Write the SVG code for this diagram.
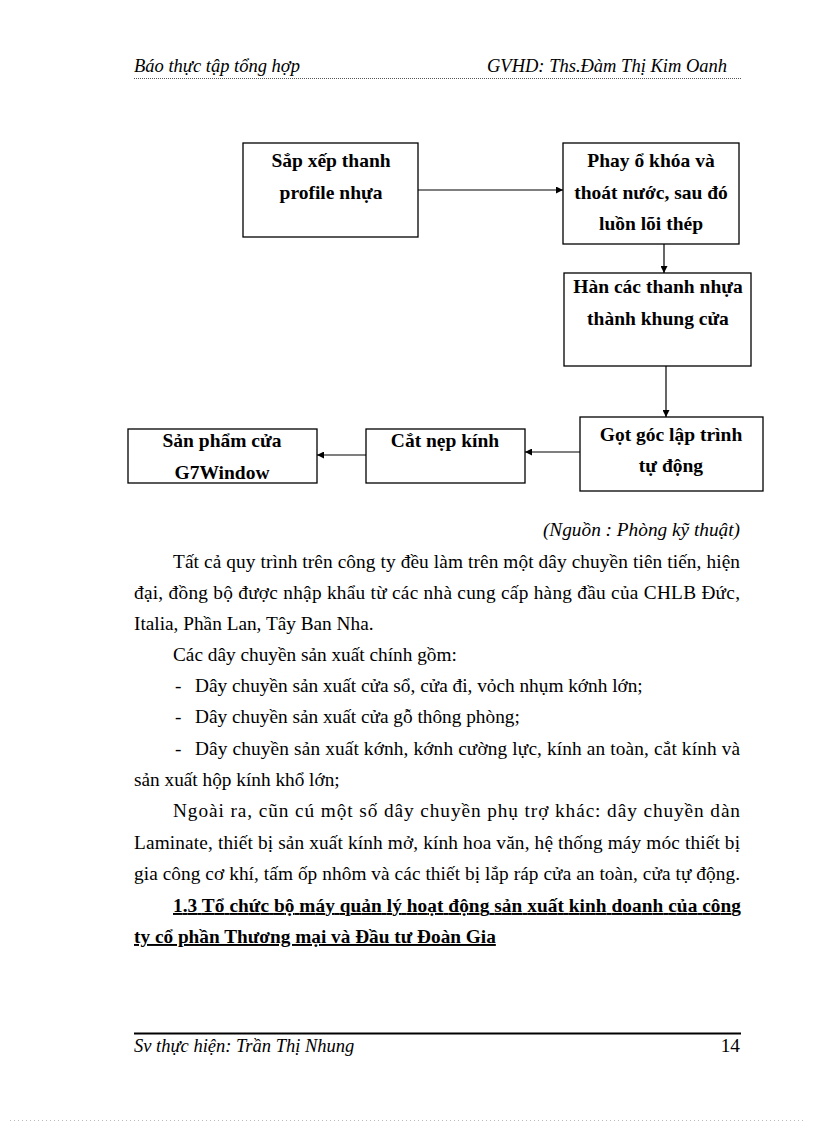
<svg xmlns="http://www.w3.org/2000/svg" width="816" height="1123" viewBox="0 0 816 1123">
<defs>
<style>
.box{fill:#fff;stroke:#000;stroke-width:1.3}
.bt{font-family:"Liberation Serif","Times New Roman",serif;font-weight:bold;font-size:19.5px;fill:#000;text-anchor:middle}
.body{font-family:"Liberation Serif","Times New Roman",serif;font-size:19.3px;fill:#000}
.hd{font-family:"Liberation Serif","Times New Roman",serif;font-style:italic;font-size:18.5px;fill:#000}
.conn{stroke:#000;stroke-width:1.2;fill:none;marker-end:url(#ah)}
</style>
<marker id="ah" viewBox="0 0 10 10" refX="10" refY="5" markerWidth="7" markerHeight="7" markerUnits="userSpaceOnUse" orient="auto">
<path d="M0,0 L10,5 L0,10 z" fill="#000"/>
</marker>
</defs>
<rect width="816" height="1123" fill="#fff"/>
<!-- header -->
<text class="hd" x="134" y="72">Báo thực tập tổng hợp</text>
<text class="hd" x="727" y="72" text-anchor="end">GVHD: Ths.Đàm Thị Kim Oanh</text>
<line x1="134" y1="78.5" x2="741" y2="78.5" stroke="#555" stroke-width="1" stroke-dasharray="1,1"/>

<!-- nodes -->
<g id="n1"><rect class="box" x="243" y="143" width="175" height="94"/>
<text class="bt" x="331" y="167">Sắp xếp thanh</text><text class="bt" x="331" y="199">profile nhựa</text></g>
<g id="n2"><rect class="box" x="563" y="143" width="176" height="101"/>
<text class="bt" x="651" y="167">Phay ổ khóa và</text><text class="bt" x="651" y="199">thoát nước, sau đó</text><text class="bt" x="651" y="230">luồn lõi thép</text></g>
<g id="n3"><rect class="box" x="564" y="273" width="187" height="93"/>
<text class="bt" x="658" y="293">Hàn các thanh nhựa</text><text class="bt" x="658" y="325">thành khung cửa</text></g>
<g id="n4"><rect class="box" x="580" y="417" width="183" height="74"/>
<text class="bt" x="671" y="441">Gọt góc lập trình</text><text class="bt" x="671" y="472">tự động</text></g>
<g id="n5"><rect class="box" x="366" y="429" width="159" height="54"/>
<text class="bt" x="445" y="447">Cắt nẹp kính</text></g>
<g id="n6"><rect class="box" x="128" y="429" width="189" height="54"/>
<text class="bt" x="222" y="447">Sản phẩm cửa</text><text class="bt" x="222" y="479">G7Window</text></g>

<!-- connectors -->
<g id="connectors">
<line class="conn" x1="418" y1="190" x2="563" y2="190"/>
<line class="conn" x1="664" y1="244" x2="664" y2="273"/>
<line class="conn" x1="666" y1="366" x2="666" y2="417"/>
<line class="conn" x1="580" y1="452" x2="525" y2="452"/>
<line class="conn" x1="366" y1="455" x2="317" y2="455"/>
</g>

<!-- body text -->
<text class="body" x="740" y="536" text-anchor="end" font-style="italic">(Nguồn : Phòng kỹ thuật)</text>
<text class="body" x="173" y="568" textLength="567" lengthAdjust="spacing">Tất cả quy trình trên công ty đều làm trên một dây chuyền tiên tiến, hiện</text>
<text class="body" x="134" y="599" textLength="606" lengthAdjust="spacing">đại, đồng bộ được nhập khẩu từ các nhà cung cấp hàng đầu của CHLB Đức,</text>
<text class="body" x="134" y="630">Italia,  Phần Lan, Tây Ban Nha.</text>
<text class="body" x="173" y="661">Các dây chuyền sản xuất chính gồm:</text>
<text class="body" x="175" y="692">-</text><text class="body" x="195" y="692">Dây chuyền sản xuất cửa sổ, cửa đi, vỏch nhụm kớnh lớn;</text>
<text class="body" x="175" y="723">-</text><text class="body" x="195" y="723">Dây chuyền sản xuất cửa gỗ thông phòng;</text>
<text class="body" x="175" y="755">-</text><text class="body" x="195" y="755" textLength="545" lengthAdjust="spacing">Dây chuyền sản xuất kớnh, kớnh cường lực, kính an toàn, cắt kính và</text>
<text class="body" x="134" y="786">sản xuất hộp kính khổ lớn;</text>
<text class="body" x="173" y="817" textLength="567" lengthAdjust="spacing">Ngoài ra, cũn cú một số dây chuyền phụ trợ khác: dây chuyền dàn</text>
<text class="body" x="134" y="849" textLength="606" lengthAdjust="spacing">Laminate,  thiết bị sản xuất kính mở, kính hoa văn, hệ thống máy móc thiết  bị</text>
<text class="body" x="134" y="880" textLength="606" lengthAdjust="spacing">gia  công cơ khí, tấm ốp nhôm và các thiết  bị lắp ráp cửa an toàn, cửa tự động.</text>
<text class="body" x="173" y="912" font-weight="bold" text-decoration="underline" textLength="568" lengthAdjust="spacing">1.3 Tổ chức bộ máy quản lý hoạt động sản xuất kinh doanh của công</text>
<text class="body" x="134" y="943" font-weight="bold" text-decoration="underline">ty cổ phần Thương mại và Đầu tư Đoàn Gia</text>

<!-- footer -->
<line x1="134" y1="1033.5" x2="741" y2="1033.5" stroke="#000" stroke-width="2"/>
<text class="hd" x="134" y="1052" font-size="19">Sv thực hiện: Trần Thị Nhung</text>
<text class="body" x="740" y="1052" text-anchor="end" font-size="17">14</text>
<line x1="10" y1="1120.5" x2="806" y2="1120.5" stroke="#bbb" stroke-width="1" stroke-dasharray="1,3"/>
</svg>
